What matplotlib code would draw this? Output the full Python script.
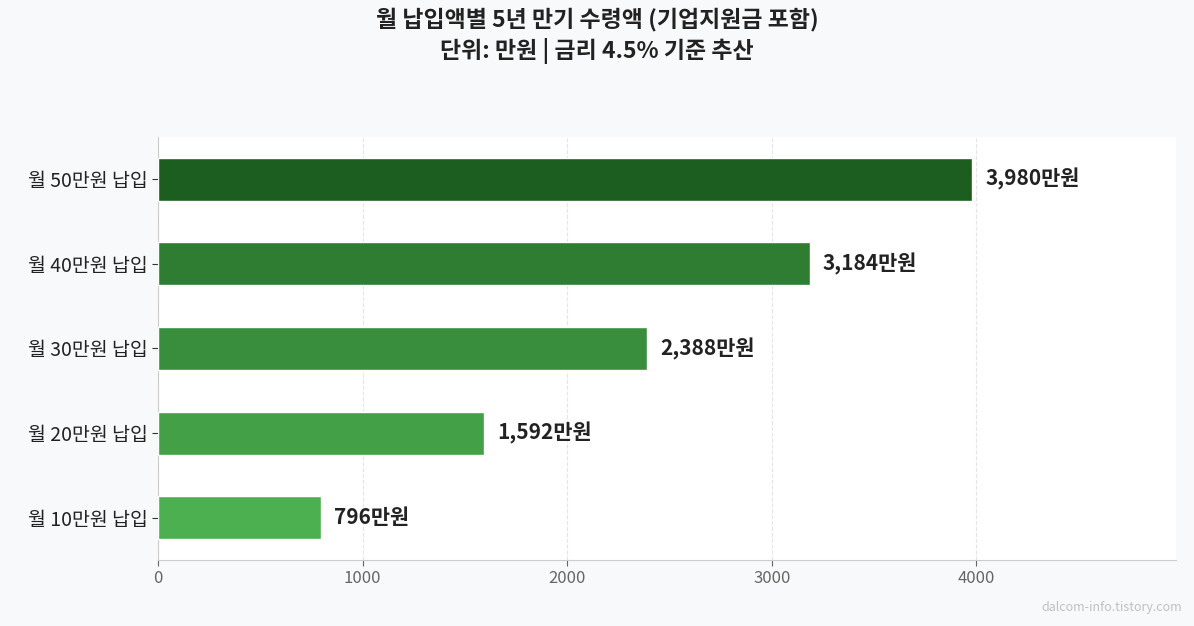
import matplotlib
matplotlib.use("Agg")
import matplotlib.pyplot as plt

categories = ["월 10만원 납입", "월 20만원 납입", "월 30만원 납입", "월 40만원 납입", "월 50만원 납입"]
values = [796, 1592, 2388, 3184, 3980]
labels = ["796만원", "1,592만원", "2,388만원", "3,184만원", "3,980만원"]
colors = ["#4caf50", "#43a047", "#388e3c", "#2e7d32", "#1b5e20"]

plt.rcParams['font.family'] = ['Noto Sans CJK KR', 'DejaVu Sans']
fig = plt.figure(figsize=(11.94, 6.26), dpi=100, facecolor="#f8f9fa")
ax = fig.add_axes([158/1194, 1-560/626, (1176-158)/1194, (560-137)/626])
ax.set_facecolor("white")
ax.barh(categories, values, height=0.51, color=colors, edgecolor="white", linewidth=1, zorder=3)
for i, (v, l) in enumerate(zip(values, labels)):
    ax.text(v + 65, i, l, va="center", ha="left", fontsize=15, fontweight="bold", color="#222222")
ax.set_xlim(0, 4975)
ax.set_ylim(-0.5, 4.5)
ax.set_xticks([0, 1000, 2000, 3000, 4000])
ax.grid(axis="x", linestyle="--", color="#e5e5e5", linewidth=0.8, zorder=0)
for s in ["top", "right"]:
    ax.spines[s].set_visible(False)
for s in ["left", "bottom"]:
    ax.spines[s].set_color("#cccccc")
ax.tick_params(axis="y", labelsize=14, colors="#333333", length=4)
ax.tick_params(axis="x", labelsize=12, colors="#666666", length=4)
for t in ax.get_yticklabels():
    t.set_color("#222222")
fig.text(0.5, 1-8/626, "월 납입액별 5년 만기 수령액 (기업지원금 포함)\n단위: 만원 | 금리 4.5% 기준 추산",
         ha="center", va="top", fontsize=16.5, fontweight="bold", color="#222222", linespacing=1.3)
fig.text(1182/1194, 1-607/626, "dalcom-info.tistory.com", ha="right", va="center", fontsize=9, color="#c0c0c0")
fig.savefig("out.png", dpi=100, facecolor=fig.get_facecolor())
